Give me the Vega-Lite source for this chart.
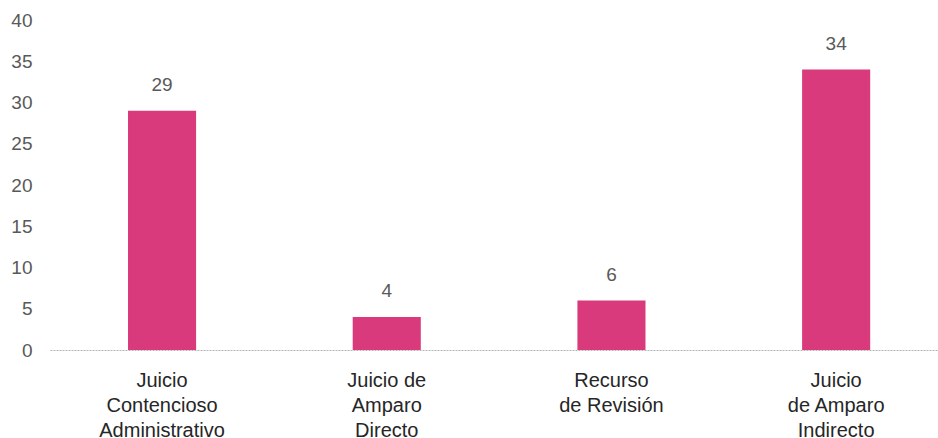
{
  "$schema": "https://vega.github.io/schema/vega-lite/v6.json",
  "width": 888,
  "height": 330,
  "autosize": {"type": "none"},
  "padding": {"left": 50, "top": 20, "right": 0, "bottom": 88},
  "background": "white",
  "config": {"view": {"stroke": null}, "font": "Liberation Sans"},
  "data": {
    "values": [
      {"tipo": "Juicio|Contencioso|Administrativo", "total": 29},
      {"tipo": "Juicio de|Amparo|Directo", "total": 4},
      {"tipo": "Recurso|de Revisión", "total": 6},
      {"tipo": "Juicio|de Amparo|Indirecto", "total": 34}
    ]
  },
  "encoding": {
    "x": {
      "field": "tipo",
      "type": "nominal",
      "sort": null,
      "scale": {"paddingInner": 0.697, "paddingOuter": 0.3245, "align": 0.535},
      "axis": {
        "title": null,
        "labelAngle": 0,
        "labelExpr": "split(datum.value, '|')",
        "labelFontSize": 20,
        "labelColor": "#262626",
        "labelLineHeight": 25,
        "labelPadding": 20,
        "ticks": false,
        "domainColor": "#b5b5b5",
        "domainWidth": 1,
        "domainDash": [2, 1],
        "labelLimit": 300
      }
    },
    "y": {
      "field": "total",
      "type": "quantitative",
      "scale": {"domain": [0, 40], "nice": false},
      "axis": {
        "title": null,
        "values": [0, 5, 10, 15, 20, 25, 30, 35, 40],
        "grid": false,
        "domain": false,
        "ticks": false,
        "labelFontSize": 19,
        "labelColor": "#595959",
        "labelPadding": 18
      }
    }
  },
  "layer": [
    {"mark": {"type": "bar", "color": "#d83a7b"}},
    {
      "mark": {"type": "text", "baseline": "bottom", "dy": -16, "fontSize": 19, "color": "#595959"},
      "encoding": {"text": {"field": "total", "type": "quantitative"}}
    }
  ]
}
